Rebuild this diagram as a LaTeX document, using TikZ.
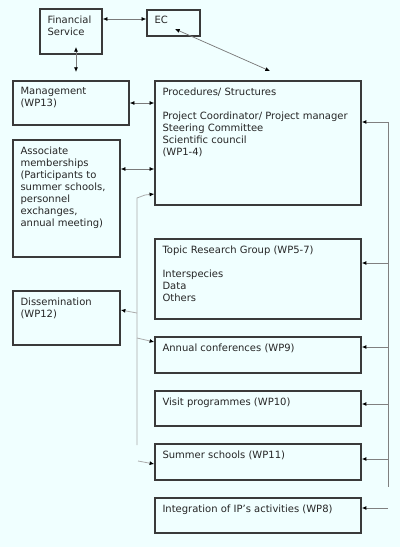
\documentclass[tikz,border=0pt]{standalone}
\usepackage{fontspec}
\setmainfont{DejaVu Sans}
\usetikzlibrary{arrows.meta}
\definecolor{bg}{HTML}{F0FFFF}
\definecolor{boxline}{HTML}{3A3A3A}
\definecolor{linkgray}{HTML}{7A7A7A}
\definecolor{railgray}{HTML}{808080}
\definecolor{feedgray}{HTML}{ABABAB}
\tikzset{
  wpBox/.style={draw=boxline, line width=1.1pt, inner sep=0pt},
  wpTxt/.style={anchor=north west, inner sep=0pt, align=left, text=black!85, font=\fontsize{7.5}{9}\selectfont},
  link/.style={draw=linkgray, line width=0.55pt, <->},
  rail/.style={draw=railgray, line width=0.7pt},
  feeder/.style={draw=feedgray, line width=0.6pt},
}
% box with its text in the top left corner
\newcommand{\WPBox}[6]{%
  \node[wpBox, minimum width=#4*0.75pt, minimum height=#5*0.75pt] (#1) at (#2+#4/2,#3+#5/2) {};
  \node[wpTxt] (#1T) at ([shift={(8,7)}]#1.north west) {#6};
}
\begin{document}
\begin{tikzpicture}[x=0.75pt, y=-0.75pt, >={Latex[length=3.5pt,width=3pt,color=black]}]
  \fill[bg] (0,0) rectangle (400,547);
  \useasboundingbox (0,0) rectangle (400,547);

  % top row
  \WPBox{fin}{40}{9}{62}{45}{Financial\\Service}
  \WPBox{ec}{147}{10}{53}{26}{EC}

  % left column
  \WPBox{mgmt}{13}{81}{116}{44}{Management\\(WP13)}
  \WPBox{assoc}{13}{140}{107}{117}{Associate\\memberships\\(Participants to\\summer schools,\\personnel\\exchanges,\\annual meeting)}
  \WPBox{diss}{13}{291}{107}{54}{Dissemination\\(WP12)}

  % right column
  \WPBox{proc}{155}{81}{206}{124}{Procedures/ Structures\\[9pt]Project Coordinator/ Project manager\\Steering Committee\\Scientific council\\(WP1-4)}
  \WPBox{topic}{155}{239}{206}{80}{Topic Research Group (WP5-7)\\[9pt]Interspecies\\Data\\Others}
  \WPBox{annual}{155}{337}{206}{36}{Annual conferences (WP9)}
  \WPBox{visit}{155}{391}{206}{35}{Visit programmes (WP10)}
  \WPBox{summer}{155}{444}{206}{36}{Summer schools (WP11)}
  \WPBox{integ}{155}{498}{206}{35}{Integration of IP's activities (WP8)}

  % management links
  \coordinate (finS) at (76,47);
  \coordinate (mgmtN) at (76,72);
  \coordinate (ecS) at (175,29);
  \coordinate (procN) at (270,71);
  \draw[link] (fin.east |- 0,19) -- (ec.west |- 0,19);
  \draw[link] (finS) -- (mgmtN);
  \draw[link] (ecS) -- (procN);
  \draw[link] (mgmt.east) -- (proc.west |- mgmt.east);
  \draw[link] (assoc.east |- 0,169) -- (proc.west |- 0,169);

  % grey feeder on the left
  \coordinate (feedTop) at (137,198);
  \coordinate (feedBot) at (137,445);
  \draw[feeder,->] (feedBot) -- (feedTop) -- ++(8,-3) -- (proc.west |- 0,194);
  \draw[feeder,->] (feedTop |- 0,313) -- (diss.east |- 0,310);
  \draw[feeder,->] (feedTop |- 0,338) -- (annual.west |- 0,342);
  \draw[feeder,->] (138,461) -- (summer.west |- 0,464);

  % right rail
  \coordinate (railTop) at (388,122);
  \coordinate (railBot) at (388,487);
  \draw[rail] (railTop) -- (railBot);
  \foreach \wp/\yy in {proc/122, topic/263, annual/347, visit/404, summer/459}
    \draw[rail,->] (railTop |- 0,\yy) -- (\wp.east |- 0,\yy);
  \draw[rail,->] (railTop |- 0,508) -- (integ.east |- 0,508);
\end{tikzpicture}
\end{document}
